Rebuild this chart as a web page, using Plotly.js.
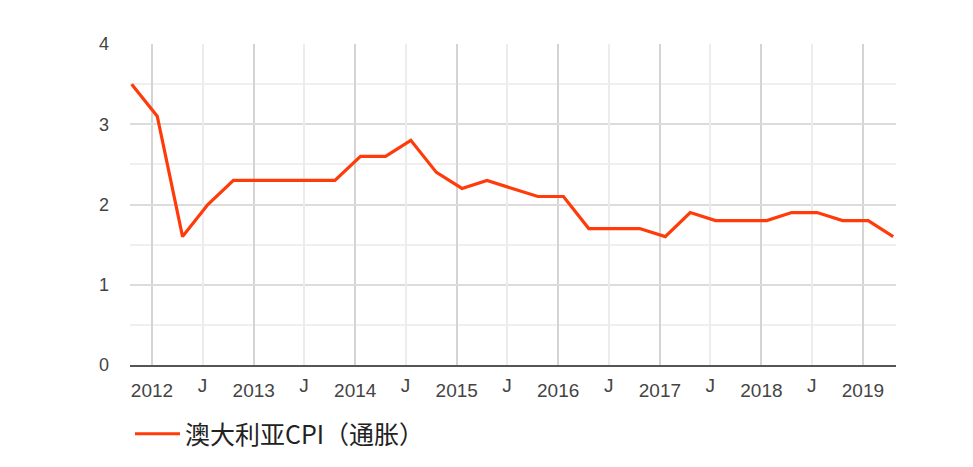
<!DOCTYPE html>
<html>
<head>
<meta charset="utf-8">
<script src="https://cdn.plot.ly/plotly-3.0.1.min.js"></script>
<style>html,body{margin:0;padding:0;background:#fff;}#chart{width:973px;height:467px;}</style>
</head>
<body>
<div id="chart"></div>
<script>
var dates = ["2011-10-20","2012-01-20","2012-04-20","2012-07-20","2012-10-20",
  "2013-01-20","2013-04-20","2013-07-20","2013-10-20",
  "2014-01-20","2014-04-20","2014-07-20","2014-10-20",
  "2015-01-20","2015-04-20","2015-07-20","2015-10-20",
  "2016-01-20","2016-04-20","2016-07-20","2016-10-20",
  "2017-01-20","2017-04-20","2017-07-20","2017-10-20",
  "2018-01-20","2018-04-20","2018-07-20","2018-10-20",
  "2019-01-20","2019-04-20"];
var cpi = [3.5,3.1,1.6,2.0,2.3,2.3,2.3,2.3,2.3,2.6,2.6,2.8,2.4,2.2,2.3,2.2,2.1,2.1,1.7,1.7,1.7,1.6,1.9,1.8,1.8,1.8,1.9,1.9,1.8,1.8,1.6];
var yearTicks = ["2012-01-01","2013-01-01","2014-01-01","2015-01-01","2016-01-01","2017-01-01","2018-01-01","2019-01-01"];
var yearLabels = ["2012","2013","2014","2015","2016","2017","2018","2019"];
var midTicks = ["2012-07-01","2013-07-01","2014-07-01","2015-07-01","2016-07-01","2017-07-01","2018-07-01"];
var midLabels = ["J","J","J","J","J","J","J"];
var seriesName = "澳大利亚CPI（通胀）";

var xr = ["2011-10-14","2019-04-30"];
var xFont = {family:"Liberation Sans, Arial, sans-serif", size:19, color:"#444"};
var yFont = {family:"Liberation Sans, Arial, sans-serif", size:18, color:"#444"};

var traces = [
  {x:dates, y:cpi, xaxis:"x2", yaxis:"y", mode:"lines", line:{color:"rgba(0,0,0,0)", width:0}, hoverinfo:"skip", showlegend:false},
  {x:dates, y:cpi, xaxis:"x", yaxis:"y", mode:"lines", name:seriesName, line:{color:"#ff3b0a", width:3.2}}
];

var layout = {
  width:973, height:467,
  margin:{l:130, r:77, t:44, b:102, autoexpand:false},
  paper_bgcolor:"#fff", plot_bgcolor:"#fff",
  showlegend:true,
  legend:{orientation:"h", x:0.0, xanchor:"left", y:-0.215, yanchor:"middle", itemwidth:45,
    font:{family:"Noto Sans CJK SC, Noto Sans, sans-serif", size:25, color:"#222"}},
  xaxis:{type:"date", range:xr, tickmode:"array", tickvals:yearTicks, ticktext:yearLabels,
    showgrid:true, gridcolor:"#d4d4d4", gridwidth:2, zeroline:false,
    showline:true, linecolor:"#555", linewidth:2, ticks:"", tickfont:xFont, ticklabelstandoff:7},
  xaxis2:{type:"date", range:xr, overlaying:"x", side:"bottom", anchor:"y", tickmode:"array", tickvals:midTicks, ticktext:midLabels,
    showgrid:true, gridcolor:"#ececec", gridwidth:2, zeroline:false, showline:false, ticks:"", tickfont:xFont, ticklabelstandoff:7},
  yaxis:{range:[0,4], tickmode:"linear", tick0:0, dtick:1, showgrid:true, gridcolor:"#dcdcdc", gridwidth:2,
    zeroline:false, ticks:"", tickfont:yFont, ticklabelstandoff:20,
    minor:{dtick:0.5, tick0:0, showgrid:true, gridcolor:"#efefef", gridwidth:2}}
};

Plotly.newPlot("chart", traces, layout, {displayModeBar:false, staticPlot:true});
</script>
</body>
</html>
